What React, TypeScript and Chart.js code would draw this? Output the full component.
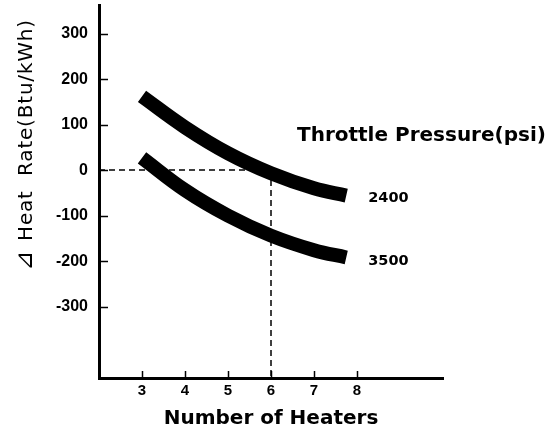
import React, { useEffect, useRef } from "react";
import { Chart, registerables } from "chart.js";

Chart.register(...registerables);

const heaters = [3, 4, 5, 6, 7, 7.75];
const hr2400 = [162, 94, 37, -7, -40, -56];
const hr3500 = [27, -44, -100, -144, -176, -192];
const seriesLabels = ["2400", "3500"];
const xTicks = [3, 4, 5, 6, 7, 8];
const yTicks = [-300, -200, -100, 0, 100, 200, 300];
const refHeaters = 6;
const refDelta = 0;
const refHorizontalEnd = 5.45;
const xRange = [2, 10];
const yRange = [-457, 363];
const yTitleSymbol = "\u22BF";
const yTitle = "Heat  Rate(Btu/kWh)";
const xTitle = "Number of Heaters";
const legendTitle = "Throttle Pressure(psi)";

const tickMarks = {
  id: "tickMarks",
  afterDatasetsDraw(chart: any) {
    const { ctx, chartArea, scales } = chart;
    ctx.save();
    ctx.strokeStyle = "#000";
    ctx.lineWidth = 1.5;
    for (const v of yTicks) {
      const y = Math.round(scales.y.getPixelForValue(v)) + 0.5;
      ctx.beginPath();
      ctx.moveTo(chartArea.left, y);
      ctx.lineTo(chartArea.left + 9, y);
      ctx.stroke();
    }
    for (const v of xTicks) {
      const x = Math.round(scales.x.getPixelForValue(v)) + 0.5;
      ctx.beginPath();
      ctx.moveTo(x, chartArea.bottom);
      ctx.lineTo(x, chartArea.bottom - 7);
      ctx.stroke();
    }
    ctx.restore();
  },
};

const texts = {
  id: "texts",
  afterDraw(chart: any) {
    const { ctx, scales } = chart;
    ctx.save();
    ctx.fillStyle = "#000";
    // y axis title (rotated)
    ctx.save();
    ctx.translate(32, 271);
    ctx.rotate(-Math.PI / 2);
    ctx.textAlign = "left";
    ctx.textBaseline = "alphabetic";
    ctx.font = "italic 24px 'DejaVu Sans'";
    ctx.fillText(yTitleSymbol, 0, 0);
    const symW = ctx.measureText(yTitleSymbol).width;
    ctx.font = "20px 'DejaVu Sans'";
    (ctx as any).letterSpacing = "0.8px";
    ctx.fillText(yTitle, symW + 10, 0);
    ctx.restore();
    // legend title
    ctx.font = "bold 20px 'DejaVu Sans'";
    ctx.textAlign = "left";
    ctx.textBaseline = "alphabetic";
    ctx.fillText(legendTitle, 297, 141);
    // series labels next to curve ends
    ctx.font = "bold 14.5px 'DejaVu Sans'";
    const last = heaters.length - 1;
    const ends = [hr2400[last], hr3500[last]];
    seriesLabels.forEach((lab, i) => {
      const x = scales.x.getPixelForValue(heaters[last]) + 22;
      const y = scales.y.getPixelForValue(ends[i]) + 6 + i * 2;
      ctx.fillText(lab, x, y);
    });
    ctx.restore();
  },
};

export default function App() {
  const ref = useRef<HTMLCanvasElement>(null);
  useEffect(() => {
    if (!ref.current) return;
    const chart = new Chart(ref.current, {
      type: "line",
      data: {
        datasets: [
          {
            label: "ref-h",
            data: [
              { x: xRange[0], y: refDelta },
              { x: refHorizontalEnd, y: refDelta },
            ],
            borderColor: "#000",
            borderWidth: 1.5,
            borderDash: [6, 4],
            pointRadius: 0,
          },
          {
            label: "ref-v",
            data: [
              { x: refHeaters, y: refDelta },
              { x: refHeaters, y: yRange[0] },
            ],
            borderColor: "#000",
            borderWidth: 1.5,
            borderDash: [6, 4],
            pointRadius: 0,
          },
          {
            label: seriesLabels[0],
            data: heaters.map((x, i) => ({ x, y: hr2400[i] })),
            borderColor: "#000",
            borderWidth: 14,
            borderCapStyle: "butt",
            tension: 0.4,
            pointRadius: 0,
          },
          {
            label: seriesLabels[1],
            data: heaters.map((x, i) => ({ x, y: hr3500[i] })),
            borderColor: "#000",
            borderWidth: 14,
            borderCapStyle: "butt",
            tension: 0.4,
            pointRadius: 0,
          },
        ],
      },
      options: {
        responsive: false,
        animation: false,
        events: [],
        layout: { padding: { top: 5, right: 117, left: 0, bottom: 0 } },
        plugins: { legend: { display: false }, tooltip: { enabled: false } },
        scales: {
          x: {
            type: "linear",
            min: xRange[0],
            max: xRange[1],
            afterBuildTicks: (s: any) => {
              s.ticks = xTicks.map((v) => ({ value: v }));
            },
            afterFit: (s: any) => {
              s.height = 54;
              s.paddingLeft = 0;
              s.paddingRight = 0;
            },
            grid: { display: false, drawTicks: false },
            border: { display: true, color: "#000", width: 3 },
            ticks: {
              color: "#000",
              padding: 4,
              font: { family: "'Liberation Sans'", size: 15, weight: "bold" },
              callback: (v: any) => String(v),
            },
            title: {
              display: true,
              text: xTitle,
              color: "#000",
              padding: { top: 0, bottom: 1 },
              font: { family: "'DejaVu Sans'", size: 20, weight: "bold" },
            },
          },
          y: {
            type: "linear",
            min: yRange[0],
            max: yRange[1],
            afterBuildTicks: (s: any) => {
              s.ticks = yTicks.map((v) => ({ value: v }));
            },
            afterFit: (s: any) => {
              s.width = 99;
              s.paddingTop = 0;
              s.paddingBottom = 0;
            },
            grid: { display: false, drawTicks: false },
            border: { display: true, color: "#000", width: 3 },
            ticks: {
              color: "#000",
              padding: 11,
              font: { family: "'Liberation Sans'", size: 16, weight: "bold" },
              callback: (v: any) => String(v),
            },
          },
        },
      },
      plugins: [tickMarks, texts],
    });
    return () => chart.destroy();
  }, []);
  return (
    <div style={{ position: "absolute", left: 0, top: 0, width: 560, height: 432, background: "#fff" }}>
      <canvas ref={ref} width={560} height={432} />
    </div>
  );
}
